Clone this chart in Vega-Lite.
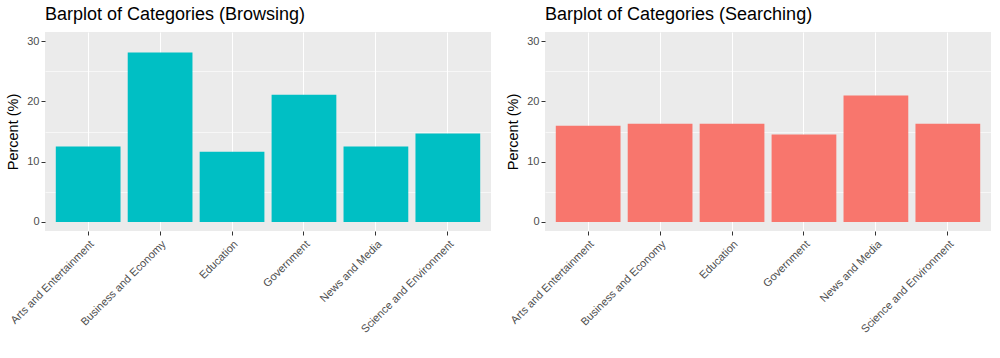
{
  "$schema": "https://vega.github.io/schema/vega-lite/v6.json",
  "background": "white",
  "padding": {"left": 5, "top": 6, "right": 8, "bottom": 5},
  "spacing": 54,
  "bounds": "flush",
  "config": {
    "font": "Liberation Sans",
    "view": {"fill": "#EBEBEB", "stroke": null},
    "axis": {
      "domain": false,
      "gridColor": "#FFFFFF",
      "gridWidth": 1.1,
      "tickColor": "#333333",
      "tickSize": 4,
      "tickWidth": 1,
      "labelColor": "#4D4D4D",
      "labelFontSize": 11,
      "labelPadding": 2,
      "titleFontWeight": "normal",
      "titleFontSize": 14.5,
      "titleColor": "#000000"
    },
    "title": {"fontSize": 18, "fontWeight": "normal", "color": "#000000", "anchor": "start", "frame": "group"}
  },
  "datasets": {
    "browsing": [
      {"category": "Arts and Entertainment", "percent": 12.5},
      {"category": "Business and Economy", "percent": 28.1},
      {"category": "Education", "percent": 11.65},
      {"category": "Government", "percent": 21.1},
      {"category": "News and Media", "percent": 12.5},
      {"category": "Science and Environment", "percent": 14.65}
    ],
    "searching": [
      {"category": "Arts and Entertainment", "percent": 15.95},
      {"category": "Business and Economy", "percent": 16.3},
      {"category": "Education", "percent": 16.3},
      {"category": "Government", "percent": 14.5},
      {"category": "News and Media", "percent": 20.95},
      {"category": "Science and Environment", "percent": 16.3}
    ]
  },
  "hconcat": [
    {
      "width": 446,
      "height": 199,
      "title": {"text": "Barplot of Categories (Browsing)", "offset": 8},
      "data": {"name": "browsing"},
      "resolve": {"axis": {"y": "independent"}},
      "layer": [
        {
          "mark": {"type": "bar", "opacity": 0},
          "encoding": {
            "x": {"field": "category", "type": "nominal", "sort": null,
              "scale": {"paddingInner": 0.1, "paddingOuter": 0.15},
              "axis": {"title": null, "labelAngle": -45, "labelAlign": "right", "labelBaseline": "top", "labelPadding": 3, "grid": true}},
            "y": {"field": "percent", "type": "quantitative",
              "scale": {"domain": [-1.5, 31.5], "nice": false, "zero": false},
              "axis": {"values": [5, 15, 25], "title": null, "labels": false, "ticks": false, "gridWidth": 0.6, "orient": "left"}}
          }
        },
        {
          "mark": {"type": "bar", "color": "#00BFC4"},
          "encoding": {
            "x": {"field": "category", "type": "nominal", "sort": null},
            "y": {"field": "percent", "type": "quantitative",
              "axis": {"values": [0, 10, 20, 30], "title": "Percent (%)", "titlePadding": 6, "orient": "left"}}
          }
        }
      ]
    },
    {
      "width": 446,
      "height": 199,
      "title": {"text": "Barplot of Categories (Searching)", "offset": 8},
      "data": {"name": "searching"},
      "resolve": {"axis": {"y": "independent"}},
      "layer": [
        {
          "mark": {"type": "bar", "opacity": 0},
          "encoding": {
            "x": {"field": "category", "type": "nominal", "sort": null,
              "scale": {"paddingInner": 0.1, "paddingOuter": 0.15},
              "axis": {"title": null, "labelAngle": -45, "labelAlign": "right", "labelBaseline": "top", "labelPadding": 3, "grid": true}},
            "y": {"field": "percent", "type": "quantitative",
              "scale": {"domain": [-1.5, 31.5], "nice": false, "zero": false},
              "axis": {"values": [5, 15, 25], "title": null, "labels": false, "ticks": false, "gridWidth": 0.6, "orient": "left"}}
          }
        },
        {
          "mark": {"type": "bar", "color": "#F8766D"},
          "encoding": {
            "x": {"field": "category", "type": "nominal", "sort": null},
            "y": {"field": "percent", "type": "quantitative",
              "axis": {"values": [0, 10, 20, 30], "title": "Percent (%)", "titlePadding": 6, "orient": "left"}}
          }
        }
      ]
    }
  ]
}
